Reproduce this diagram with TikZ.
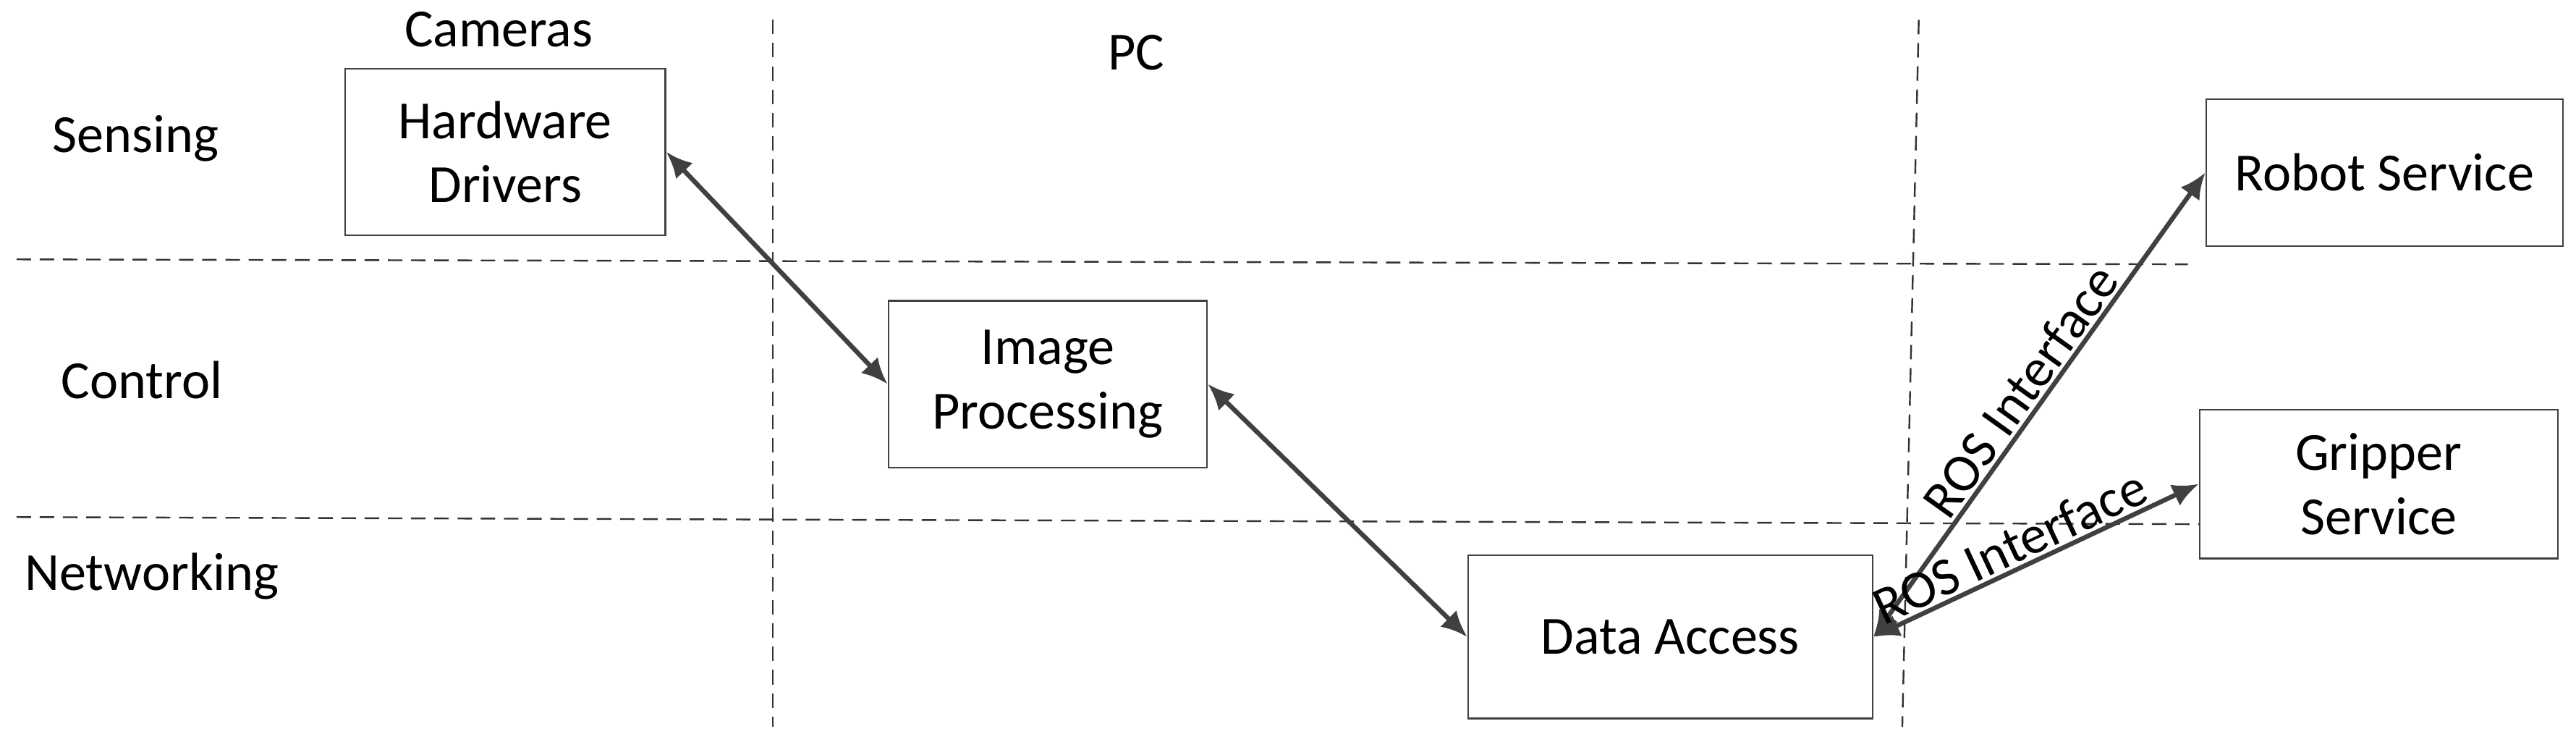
\documentclass[tikz,border=0pt]{standalone}
\usepackage{fontspec}
\setmainfont{Carlito}
\usetikzlibrary{arrows.meta}
\begin{document}
\begin{tikzpicture}[x=0.02cm,y=-0.02cm,
 box/.style={draw=black!75,line width=0.6pt,fill=white,align=center,font=\fontsize{18.5}{22}\selectfont,inner sep=0pt},
 lbl/.style={font=\fontsize{18.5}{22}\selectfont,inner sep=1pt},
 divider/.style={draw=black!80,line width=0.6pt,dash pattern=on 5pt off 3pt},
 conn/.style={draw=black!75,line width=1.6pt,{Latex[length=9pt,width=8pt]}-{Latex[length=9pt,width=8pt]}}]
\useasboundingbox (0,0) rectangle (1560,449);
\coordinate (h1a) at (10,157); \coordinate (h1b) at (1325,160);
\coordinate (h2a) at (10,313); \coordinate (h2b) at (1545,318);
\coordinate (v1a) at (468,12); \coordinate (v1b) at (468,440);
\coordinate (v2a) at (1162,12); \coordinate (v2b) at (1152,440);
\draw[divider] (h1a) -- (h1b);
\draw[divider] (h2a) -- (h2b);
\draw[divider] (v1a) -- (v1b);
\draw[divider] (v2a) -- (v2b);
\node[box,minimum width=3.88cm,minimum height=2.02cm] (hw) at (306,92) {Hardware\\Drivers};
\node[box,minimum width=3.86cm,minimum height=2.02cm] (ip) at (634.5,232.5) {Image\\Processing};
\node[box,minimum width=4.9cm,minimum height=1.98cm] (da) at (1011.5,385.5) {Data Access};
\node[box,minimum width=4.32cm,minimum height=1.78cm] (rs) at (1444,104.5) {Robot Service};
\node[box,minimum width=4.34cm,minimum height=1.8cm] (gs) at (1440.5,293) {Gripper\\Service};
\node[lbl] (cam) at (302,18) {Cameras};
\node[lbl] (pc) at (688,32) {PC};
\node[lbl] (sen) at (82,84) {Sensing};
\node[lbl] (ctl) at (86,230) {Control};
\node[lbl] (net) at (92,349) {Networking};
\draw[conn] (hw.east) -- (ip.west);
\draw[conn] (ip.east) -- (da.west);
\draw[conn] (da.east) -- (rs.west) node[lbl,pos=0.5,sloped,above] {ROS Interface};
\draw[conn] (da.east) -- (gs.west) node[lbl,pos=0.45,sloped,above] {ROS Interface};
\end{tikzpicture}
\end{document}
